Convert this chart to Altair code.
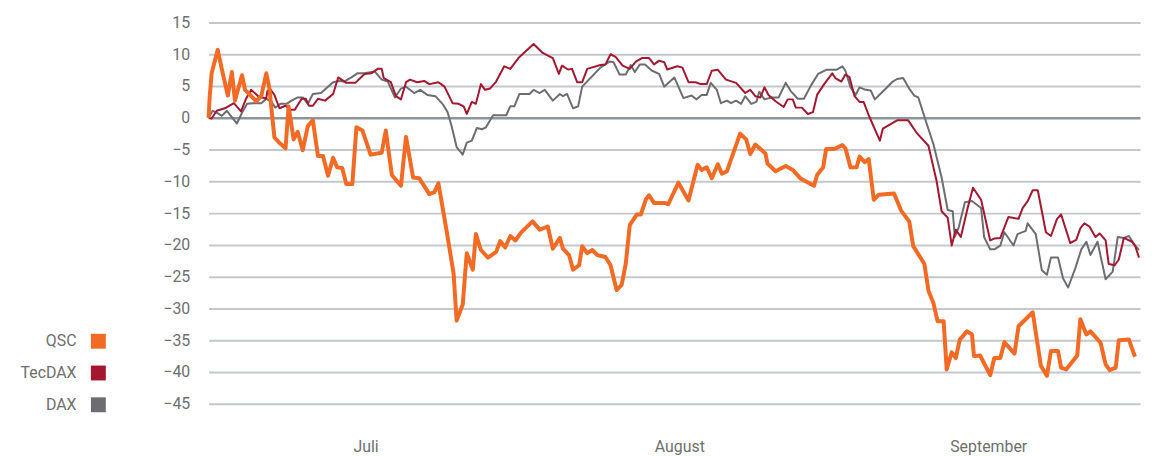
import altair as alt
import pandas as pd

# ---- data (day offset within Q3, performance in %) ----
qsc_day = [0.0, 0.1, 0.3, 0.9, 1.4, 1.9, 2.3, 2.6, 3.3, 3.6, 4.1, 4.7, 5.2, 5.7, 6.0, 6.5, 7.1, 7.6, 7.9, 8.4,
           8.8, 9.3, 9.8, 10.3, 10.8, 11.3, 11.8, 12.3, 12.7, 13.2, 13.6, 14.2, 14.6, 15.2, 16.0, 17.1, 17.5, 18.1,
           19.0, 19.5, 20.2, 20.8, 21.8, 22.3, 22.7, 23.5, 24.2, 24.5, 25.1, 25.5, 26.1, 26.4, 26.9, 27.6, 28.4,
           28.8, 29.3, 29.8, 30.3, 30.9, 32.0, 32.7, 33.5, 34.0, 34.7, 35.0, 35.6, 36.0, 36.6, 36.9, 37.4, 37.9,
           38.4, 39.2, 39.7, 40.3, 40.8, 41.2, 41.6, 42.3, 42.7, 43.2, 43.5, 44.0, 45.0, 45.4, 46.4, 47.4, 48.3,
           48.7, 49.2, 49.7, 50.3, 50.7, 51.2, 52.5, 53.1, 53.5, 54.0, 55.0, 55.2, 56.0, 57.0, 57.7, 58.5, 59.8,
           60.1, 60.7, 61.0, 61.8, 62.6, 62.9, 63.4, 64.0, 64.3, 64.8, 65.2, 65.7, 66.2, 67.7, 68.4, 69.2, 69.6,
           70.7, 71.1, 71.6, 72.0, 72.6, 72.9, 73.4, 73.8, 74.2, 74.9, 75.4, 75.6, 76.2, 77.2, 77.6, 78.2, 78.6,
           79.6, 80.0, 81.4, 82.2, 82.8, 83.2, 83.9, 84.2, 84.7, 85.8, 86.1, 86.7, 87.1, 88.1, 88.6, 89.0, 89.6,
           89.9, 90.9, 91.5]
qsc_val = [0.0, 3.1, 7.0, 10.7, 7.0, 3.5, 7.2, 2.7, 6.7, 4.4, 3.6, 2.6, 3.4, 7.0, 4.7, -3.1, -4.1, -4.8, 1.8, -3.4,
           -2.2, -5.1, -1.3, -0.4, -6.0, -6.0, -9.1, -6.3, -7.8, -7.9, -10.4, -10.4, -1.5, -2.0, -5.8, -5.5, -2.0,
           -9.0, -10.7, -3.0, -9.4, -9.5, -12.0, -11.7, -10.3, -17.7, -24.5, -31.9, -29.4, -21.3, -23.9, -18.3,
           -20.8, -22.0, -21.1, -19.4, -20.4, -18.6, -19.3, -18.0, -16.3, -17.6, -17.1, -20.6, -18.9, -20.6, -21.6,
           -23.9, -23.2, -20.2, -21.3, -20.8, -21.6, -21.9, -23.2, -27.1, -26.3, -23.0, -16.9, -15.2, -15.2, -12.8,
           -12.2, -13.4, -13.4, -13.6, -10.2, -13.0, -7.4, -8.2, -7.8, -9.5, -7.3, -8.8, -8.4, -2.5, -3.4, -5.7,
           -4.2, -5.6, -7.2, -8.4, -7.6, -8.2, -9.6, -10.7, -9.0, -7.8, -4.9, -4.9, -4.3, -4.8, -7.8, -7.8, -6.1,
           -7.0, -6.5, -12.9, -12.1, -11.9, -14.6, -16.3, -20.2, -23.0, -27.2, -29.2, -32.0, -32.0, -39.6, -36.9,
           -37.8, -34.9, -33.6, -34.1, -37.5, -37.4, -40.5, -37.8, -37.8, -35.3, -37.1, -32.8, -30.6, -39.0, -40.6,
           -36.7, -36.7, -39.3, -39.6, -37.4, -31.7, -34.1, -33.6, -35.4, -38.8, -39.7, -39.3, -35.0, -34.9, -37.6]

tec_day = [0.0, 0.3, 0.8, 1.6, 2.5, 3.2, 3.7, 4.2, 4.9, 5.7, 5.8, 6.1, 6.5, 7.0, 7.6, 8.1, 8.5, 9.2, 9.6, 9.9,
           10.3, 10.8, 11.5, 12.3, 12.8, 13.6, 14.5, 15.4, 16.1, 16.7, 17.1, 17.3, 18.0, 18.5, 19.0, 19.5, 19.9,
           20.6, 21.3, 21.8, 22.7, 23.3, 24.1, 24.7, 25.2, 25.5, 26.0, 26.4, 26.9, 27.3, 27.8, 28.4, 29.2, 29.8,
           30.6, 32.1, 33.0, 34.0, 34.6, 34.9, 35.5, 35.9, 36.4, 36.9, 37.4, 38.7, 39.2, 39.7, 40.2, 40.9, 41.6,
           42.2, 42.8, 43.5, 44.0, 44.5, 45.0, 45.3, 46.3, 46.8, 47.4, 48.1, 48.6, 49.2, 49.7, 50.3, 51.1, 52.1,
           53.0, 53.5, 54.0, 54.5, 54.9, 55.3, 56.0, 56.8, 57.2, 57.7, 58.0, 58.6, 59.2, 59.7, 60.1, 60.8, 61.6,
           61.9, 62.5, 62.9, 63.3, 63.8, 64.3, 64.7, 65.2, 66.3, 66.6, 68.0, 69.1, 70.0, 71.1, 71.9, 72.4, 73.0,
           73.4, 73.8, 74.3, 75.0, 75.5, 76.3, 77.2, 77.6, 78.2, 79.0, 80.0, 80.4, 80.9, 81.4, 81.9, 82.7, 83.2,
           83.8, 84.2, 85.1, 85.7, 86.1, 86.5, 87.0, 87.6, 88.0, 88.6, 88.9, 89.5, 89.9, 90.4, 91.2, 91.5, 91.9]
tec_val = [0.0, -0.1, 1.1, 1.5, 2.3, 1.0, 3.0, 4.4, 3.4, 3.0, 4.2, 4.5, 3.6, 1.5, 1.9, 1.25, 1.25, 3.0, 3.0, 1.9,
           1.9, 3.0, 2.7, 3.75, 6.35, 5.5, 5.5, 6.9, 7.0, 7.7, 7.7, 6.25, 5.6, 3.4, 2.9, 5.6, 6.0, 5.6, 5.8, 5.3,
           5.6, 4.9, 2.3, 2.2, 1.8, 0.6, 2.5, 2.2, 5.3, 4.4, 4.6, 5.7, 8.1, 7.7, 9.4, 11.6, 10.2, 9.4, 6.9, 8.2,
           7.6, 7.7, 5.6, 5.6, 7.7, 8.3, 8.4, 10.0, 9.6, 8.2, 7.7, 8.85, 9.4, 9.4, 8.4, 9.0, 8.75, 7.6, 8.1, 7.9,
           5.6, 5.6, 5.3, 5.3, 7.4, 7.55, 6.0, 5.5, 3.9, 4.4, 3.4, 3.2, 4.8, 3.6, 2.6, 1.7, 2.9, 2.9, 1.6, 1.6,
           0.6, 0.9, 3.6, 5.3, 7.0, 6.25, 5.7, 6.8, 6.4, 3.4, 2.5, 2.5, 0.4, -3.6, -1.7, -0.4, -0.4, -2.5, -4.4,
           -9.9, -14.7, -15.7, -20.1, -17.6, -18.75, -14.0, -11.0, -12.9, -19.3, -19.0, -18.9, -15.6, -15.9, -14.2,
           -13.1, -11.4, -11.4, -18.0, -18.6, -15.9, -15.2, -19.7, -19.2, -17.4, -16.6, -17.1, -18.75, -18.2,
           -19.3, -23.0, -23.2, -22.3, -18.9, -19.5, -20.1, -22.0]

dax_day = [0.0, 0.4, 0.8, 1.3, 1.8, 2.3, 2.8, 3.3, 3.8, 4.4, 5.2, 5.7, 6.2, 6.6, 7.1, 7.7, 8.2, 8.8, 9.3, 9.8,
           10.3, 11.1, 11.6, 12.3, 12.9, 13.4, 14.1, 14.7, 15.4, 16.4, 17.1, 17.7, 18.4, 19.0, 19.5, 20.3, 20.9,
           21.6, 22.4, 23.1, 23.6, 24.0, 24.5, 25.1, 25.5, 26.0, 26.5, 27.0, 27.4, 28.1, 29.4, 29.8, 30.2, 30.7,
           31.7, 32.1, 32.7, 33.2, 34.0, 34.7, 35.0, 35.4, 36.0, 36.5, 36.9, 38.7, 39.6, 40.0, 40.6, 41.2, 41.7,
           42.1, 42.6, 43.1, 43.8, 44.5, 45.0, 46.0, 46.9, 47.7, 48.2, 48.7, 49.2, 49.6, 50.2, 50.6, 51.2, 51.6,
           52.1, 52.6, 53.0, 53.6, 54.1, 54.4, 54.9, 55.6, 56.3, 57.0, 57.5, 58.2, 58.8, 59.5, 60.2, 61.0, 62.0,
           62.6, 62.9, 63.4, 63.9, 64.3, 64.9, 65.4, 65.8, 66.7, 67.5, 68.0, 68.6, 69.2, 69.7, 70.1, 70.8, 71.6,
           72.4, 73.0, 73.5, 73.7, 74.1, 74.7, 75.4, 76.3, 76.6, 77.2, 77.6, 78.2, 78.6, 79.5, 79.9, 80.7, 80.9,
           81.7, 82.3, 82.8, 83.2, 83.9, 84.4, 84.9, 85.6, 86.2, 86.7, 87.1, 87.8, 88.6, 89.3, 89.8, 90.4, 90.9,
           91.5, 91.9]
dax_val = [0.0, 1.1, 0.8, 0.3, 1.1, 0.1, -0.9, 0.8, 2.2, 2.3, 2.3, 3.0, 2.5, 1.6, 2.2, 2.2, 2.7, 3.2, 3.2, 2.2,
           3.75, 3.9, 4.6, 5.6, 5.8, 5.7, 6.35, 7.0, 7.0, 7.3, 6.0, 5.7, 3.2, 4.6, 4.9, 3.9, 4.4, 3.6, 3.4, 2.2,
           0.9, -1.3, -4.6, -5.8, -3.9, -3.6, -1.6, -1.8, -1.5, 0.4, 0.4, 1.8, 1.8, 3.75, 3.75, 4.4, 3.9, 4.4, 2.7,
           3.75, 3.4, 3.75, 1.5, 1.8, 4.9, 7.9, 8.85, 8.75, 6.8, 6.8, 8.3, 7.2, 8.4, 8.4, 7.4, 6.9, 4.9, 6.35, 3.1,
           3.5, 2.9, 3.6, 3.6, 5.5, 4.4, 2.3, 2.7, 2.3, 2.7, 2.2, 3.4, 2.2, 2.5, 4.1, 2.9, 3.2, 3.2, 5.5, 4.2, 3.0,
           3.0, 5.1, 6.9, 7.55, 7.55, 8.1, 7.4, 4.8, 3.6, 4.8, 4.4, 4.3, 2.9, 4.3, 5.6, 6.1, 6.25, 4.6, 3.5, 3.2,
           -0.3, -4.2, -9.4, -14.5, -14.7, -18.75, -17.2, -13.3, -13.1, -14.2, -18.75, -20.7, -20.7, -20.1, -18.0,
           -20.1, -18.3, -17.8, -16.6, -18.3, -24.0, -24.7, -22.0, -22.0, -25.3, -26.7, -23.7, -20.7, -19.5, -21.6,
           -19.5, -25.4, -24.2, -18.75, -18.9, -18.6, -20.1, -20.8]

series_names = ["QSC", "TecDAX", "DAX"]
series_colors = ["#f26a23", "#a3172f", "#6c6d70"]
series_widths = [4, 2, 2]

months = ["Juli", "August", "September"]
month_lengths = [31, 31, 30]
y_ticks = list(range(15, -50, -5))

# ---- build table ----
frames = []
for name, d, v in [("QSC", qsc_day, qsc_val), ("TecDAX", tec_day, tec_val), ("DAX", dax_day, dax_val)]:
    frames.append(pd.DataFrame({"series": name, "day": d, "value": v}))
df = pd.concat(frames, ignore_index=True)

total_days = sum(month_lengths)
starts = [sum(month_lengths[:i]) for i in range(len(months))]
centers = [s + l / 2 for s, l in zip(starts, month_lengths)]
label_expr = ""
for i in range(len(months) - 1):
    label_expr += f"datum.value < {starts[i + 1]} ? '{months[i]}' : "
label_expr += f"'{months[-1]}'"

FONT = "Roboto"
TXT = "#6e6e6e"

x_enc = alt.X("day:Q", scale=alt.Scale(domain=[0, total_days], nice=False, zero=False),
              axis=alt.Axis(values=centers, labelExpr=label_expr, title=None, grid=False, domain=False,
                            ticks=False, labelPadding=35, labelFontSize=16, labelColor=TXT, labelFont=FONT,
                            labelFlush=False))
y_enc = alt.Y("value:Q", scale=alt.Scale(domain=[-45, 15], nice=False, zero=False),
              axis=alt.Axis(values=y_ticks, title=None, domain=False, ticks=False, labelPadding=19,
                            labelFontSize=16, labelColor=TXT, labelFont=FONT,
                            gridColor={"condition": {"test": "datum.value === 0", "value": "#8c959c"},
                                       "value": "#c3c8cd"},
                            gridWidth={"condition": {"test": "datum.value === 0", "value": 2.5},
                                       "value": 2}))

color_enc = alt.Color("series:N",
                      scale=alt.Scale(domain=series_names, range=series_colors),
                      legend=alt.Legend(title=None, orient="none", legendX=-119, legendY=313,
                                        symbolType="square", symbolSize=225, symbolStrokeWidth=0,
                                        symbolFillColor={"expr": "scale('color', datum.value)"},
                                        labelAlign="right", labelOffset={"expr": "-30"},
                                        rowPadding=16,
                                        labelFontSize=16, labelColor=TXT, labelFont=FONT,
                                        symbolOpacity=1))

base = alt.Chart(df)
layers = []
for name, w in reversed(list(zip(series_names, series_widths))):
    layers.append(
        base.transform_filter(alt.datum.series == name)
        .mark_line(strokeWidth=w, strokeJoin="round", interpolate="linear")
        .encode(x=x_enc, y=y_enc, color=color_enc)
    )

chart = alt.layer(*layers).properties(
    width=938, height=384,
    autosize=alt.AutoSizeParams(type="none"),
    padding={"left": 202, "top": 13, "right": 7, "bottom": 50},
    background="white",
).configure_view(stroke=None)

chart.save("out.html", embed_options={"renderer": "svg", "actions": False})
